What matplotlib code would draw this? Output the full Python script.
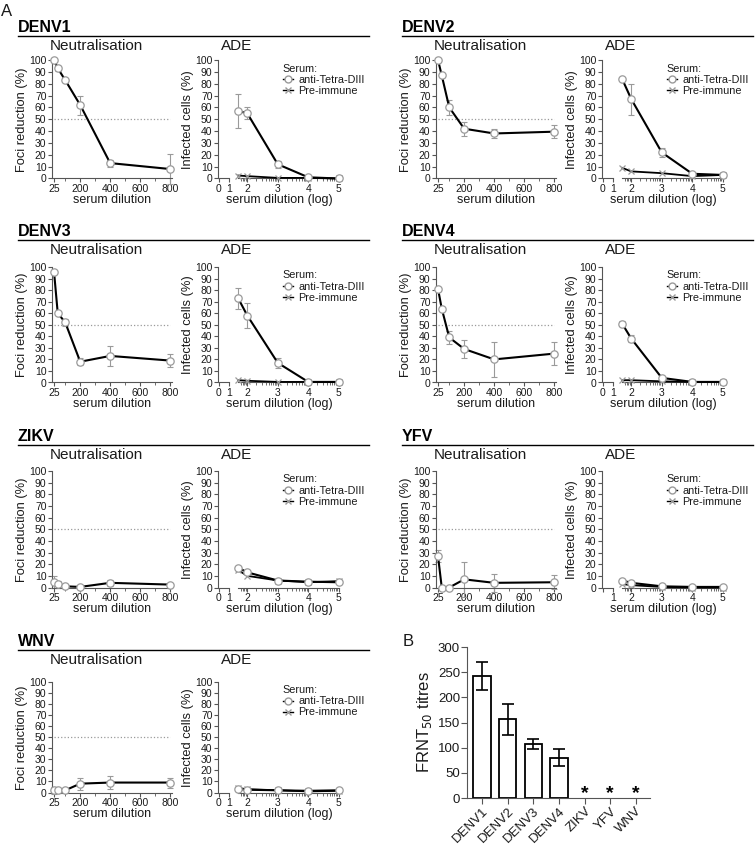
import numpy as np
import matplotlib
matplotlib.use("Agg")
import matplotlib.pyplot as plt
from matplotlib.lines import Line2D

plt.rcParams['font.family'] = ['Liberation Sans', 'DejaVu Sans']

W, H = 756, 846

# dilutions used in the assays
neut_dil = [25, 50, 100, 200, 400, 800]
ade_log = [1.7, 2, 3, 4, 5]

# neutralisation (foci reduction %, with error)
denv1_neut = [100, 93, 83, 62, 13, 8]
denv1_neut_err = [0, 2, 1, 8, 3, 13]
denv2_neut = [100, 87, 60, 42, 38, 39.5]
denv2_neut_err = [0, 1, 6.5, 6, 4, 5.5]
denv3_neut = [96, 60, 52, 18, 23, 19]
denv3_neut_err = [0, 1, 3, 3, 8.5, 5.5]
denv4_neut = [81, 64, 39, 29, 20, 25]
denv4_neut_err = [0, 1, 6, 7.5, 15, 10]
zikv_neut = [5, 3, 1, 0.5, 4, 2.5]
zikv_neut_err = [5, 3, 0, 0, 2.5, 0]
yfv_neut = [27, 0, 0, 7, 4, 4.5]
yfv_neut_err = [5, 0, 0, 15, 8, 6]
wnv_neut = [2, 2, 2, 8, 9, 9]
wnv_neut_err = [3, 0, 0, 5.5, 5.5, 4.5]

# ADE (infected cells %), anti-Tetra-DIII serum and pre-immune serum
denv1_anti = [57, 55, 12, 1, 0]
denv1_anti_err = [14, 5, 3, 0.5, 0]
denv1_pre = [2.5, 2, 0.5, 0.5, 0]
denv2_anti = [84, 67, 22, 4, 3]
denv2_anti_err = [1, 13, 4, 1, 1.5]
denv2_pre = [9, 6, 4.5, 2, 3]
denv3_anti = [73, 58, 17, 0.5, 0.5]
denv3_anti_err = [9, 11, 4.5, 0, 0]
denv3_pre = [2, 1.5, 0.5, 0.5, 0.5]
denv4_anti = [51, 38, 4, 0.5, 0.5]
denv4_anti_err = [2.5, 3, 1, 0, 0]
denv4_pre = [2, 2, 1, 0.5, 0.5]
zikv_anti = [17, 13, 6, 5, 4.5]
zikv_anti_err = [1, 1, 0.5, 0.5, 0.5]
zikv_pre = [15, 10, 6, 4.5, 5.5]
yfv_anti = [6, 4, 1, 0.5, 0.5]
yfv_anti_err = [1, 1, 0, 0, 0]
yfv_pre = [3, 2, 0.5, 0, 0]
wnv_anti = [3, 2.5, 2, 1.5, 2]
wnv_anti_err = [1, 0.5, 0.5, 0.5, 0.5]
wnv_pre = [4, 3, 2, 1, 1.5]

# panel B
frnt_names = ['DENV1', 'DENV2', 'DENV3', 'DENV4', 'ZIKV', 'YFV', 'WNV']
frnt_mean = [242, 156, 107, 80, 0, 0, 0]
frnt_err = [28, 31, 10, 17, 0, 0, 0]

blocks = [
    ('DENV1', denv1_neut, denv1_neut_err, denv1_anti, denv1_anti_err, denv1_pre),
    ('DENV2', denv2_neut, denv2_neut_err, denv2_anti, denv2_anti_err, denv2_pre),
    ('DENV3', denv3_neut, denv3_neut_err, denv3_anti, denv3_anti_err, denv3_pre),
    ('DENV4', denv4_neut, denv4_neut_err, denv4_anti, denv4_anti_err, denv4_pre),
    ('ZIKV', zikv_neut, zikv_neut_err, zikv_anti, zikv_anti_err, zikv_pre),
    ('YFV', yfv_neut, yfv_neut_err, yfv_anti, yfv_anti_err, yfv_pre),
    ('WNV', wnv_neut, wnv_neut_err, wnv_anti, wnv_anti_err, wnv_pre),
]

TXT = '#1a1a1a'
AX = '#555555'
GREY = '#9a9a9a'

fig = plt.figure(figsize=(W / 100, H / 100), dpi=100)


def add_ax(left, top, width, height):
    return fig.add_axes([left / W, 1 - (top + height) / H, width / W, height / H])


def ftext(x, y, s, **kw):
    kw.setdefault('color', TXT)
    fig.text(x / W, 1 - y / H, s, **kw)


def hline(x0, x1, y):
    fig.add_artist(Line2D([x0 / W, x1 / W], [1 - y / H] * 2, color='black', lw=1.0,
                          transform=fig.transFigure))


# broken log axis used for ADE: short 0-1 segment, then log dilution from 1.7 on
def ade_fwd(x):
    x = np.asarray(x, float)
    return np.where(x <= 1, x * 0.33,
                    np.where(x <= 1.7, 0.33 + (x - 1) * 0.3 / 0.7, x - 1.07))


def ade_inv(p):
    p = np.asarray(p, float)
    return np.where(p <= 0.33, p / 0.33,
                    np.where(p <= 0.63, 1 + (p - 0.33) * 0.7 / 0.3, p + 1.07))


def style_axis(ax, size=7.5):
    for s in ['top', 'right']:
        ax.spines[s].set_visible(False)
    for s in ['left', 'bottom']:
        ax.spines[s].set_color(AX)
        ax.spines[s].set_linewidth(0.8)
    ax.tick_params(which='major', direction='out', length=3, width=0.8, color=AX,
                   labelsize=size, labelcolor=TXT, pad=1)
    ax.tick_params(which='minor', direction='out', length=2, width=0.6, color=AX)


def draw_neut(ax, y, err):
    style_axis(ax)
    ax.errorbar(neut_dil, y, yerr=err, fmt='none', ecolor=GREY, elinewidth=0.8,
                capsize=2, capthick=0.8, clip_on=False, zorder=2)
    ax.plot(neut_dil, y, '-o', color='black', lw=1.5, ms=5.3, mfc='white', mec=GREY,
            mew=0.9, clip_on=False, zorder=3)
    ax.plot([25, 800], [50, 50], ':', color=GREY, lw=0.9, zorder=1)
    ax.set_xlim(11.6, 813)
    ax.set_ylim(0, 100)
    ax.set_yticks(range(0, 101, 10))
    ax.set_xticks([25, 200, 400, 600, 800])
    ax.set_xticks([100, 300, 500, 700], minor=True)
    ax.set_ylabel('Foci reduction (%)', fontsize=9.3, color=TXT, labelpad=1)
    ax.set_xlabel('serum dilution', fontsize=9, color=TXT, labelpad=0)


def draw_ade(ax, anti, anti_err, pre, show_zero=True):
    ax.set_xscale('function', functions=(ade_fwd, ade_inv))
    style_axis(ax)
    ax.errorbar(ade_log, anti, yerr=anti_err, fmt='none', ecolor=GREY, elinewidth=0.8,
                capsize=2, capthick=0.8, clip_on=False, zorder=2)
    ax.plot(ade_log, pre, '-x', color='black', lw=1.3, ms=4, mec=GREY, mew=0.9,
            clip_on=False, zorder=3)
    ax.plot(ade_log, anti, '-o', color='black', lw=1.5, ms=5.3, mfc='white', mec=GREY,
            mew=0.9, clip_on=False, zorder=4)
    ax.set_xlim(-0.09, 5.04)
    ax.set_ylim(0, 100)
    ax.set_yticks(range(0, 101, 10))
    ax.set_xticks([0, 1, 2, 3, 4, 5])
    if not show_zero:
        ax.set_xticklabels(['', '1', '2', '3', '4', '5'])
    minors = [np.log10(k * 10 ** n) for n in (1, 2, 3, 4) for k in range(2, 10)]
    minors = [m for m in minors if 1.7 < m < 5]
    ax.set_xticks(minors, minor=True)
    ax.spines['bottom'].set_bounds(1.7, 5)
    ax.plot([0, 1], [0, 0], color=AX, lw=0.8, transform=ax.get_xaxis_transform(),
            clip_on=False)
    ax.set_ylabel('Infected cells (%)', fontsize=9.3, color=TXT, labelpad=1)
    ax.set_xlabel('serum dilution (log)', fontsize=9, color=TXT, labelpad=0)
    handles = [
        Line2D([], [], color='black', lw=1.0, marker='o', ms=5, mfc='white', mec=GREY),
        Line2D([], [], color='black', lw=1.0, marker='x', ms=4, mec=GREY),
    ]
    leg = ax.legend(handles, ['anti-Tetra-DIII', 'Pre-immune'], title='Serum:',
                    loc='upper left', bbox_to_anchor=(0.53, 0.97), frameon=False,
                    fontsize=7.8, title_fontsize=7.8, handlelength=1.0,
                    handletextpad=0.45, labelspacing=0.1, borderaxespad=0,
                    borderpad=0, alignment='left')
    for t in leg.get_texts():
        t.set_color(TXT)
    leg.get_title().set_color(TXT)


row_lines = [36, 240, 445, 650]
row_tops = [24, 27, 26, 32]
col_offsets = [0, 384]

for i, (name, neut, neut_err, anti, anti_err, pre) in enumerate(blocks):
    r = i // 2
    L = row_lines[r]
    ox = col_offsets[i % 2]
    top = L + row_tops[r]
    h = L + 142.5 - top
    ftext(18 + ox, L - 9, name, fontsize=11.5, fontweight='bold', va='center',
          color='black')
    hline(18 + ox, 369 + ox, L)
    ftext(96 + ox, L + 10, 'Neutralisation', fontsize=11, ha='center', va='center')
    ftext(237 + ox, L + 10, 'ADE', fontsize=11, ha='center', va='center')
    ax_n = add_ax(52 + ox, top, 120, h)
    draw_neut(ax_n, neut, neut_err)
    ax_a = add_ax(218 + ox, top, 122, h)
    draw_ade(ax_a, anti, anti_err, pre, show_zero=(name != 'YFV'))

ftext(1, 11, 'A', fontsize=12, va='center')
ftext(403, 641, 'B', fontsize=12, va='center')

# panel B: FRNT50 titres
axb = add_ax(467, 647, 183, 151)
style_axis(axb, size=9.5)
xb = np.arange(len(frnt_names))
mean = np.array(frnt_mean, float)
err = np.array(frnt_err, float)
has = mean > 0
axb.bar(xb[has], mean[has], width=0.68, color='white', edgecolor='black', lw=1.3,
        yerr=err[has], capsize=4, error_kw=dict(ecolor='black', elinewidth=1.2,
                                                capthick=1.2))
for xi in xb[~has]:
    axb.text(xi, 9, '*', ha='center', va='center', fontsize=14, fontweight='bold',
             color='black')
axb.set_xlim(-0.59, 6.55)
axb.set_ylim(0, 300)
axb.set_yticks(range(0, 301, 50))
axb.set_xticks(xb)
axb.set_xticklabels(frnt_names, rotation=45, ha='right', rotation_mode='anchor')
axb.tick_params(axis='both', length=4)
axb.set_ylabel('FRNT$_{50}$ titres', fontsize=12, color=TXT, labelpad=3)

fig.savefig('out.png', dpi=100)
